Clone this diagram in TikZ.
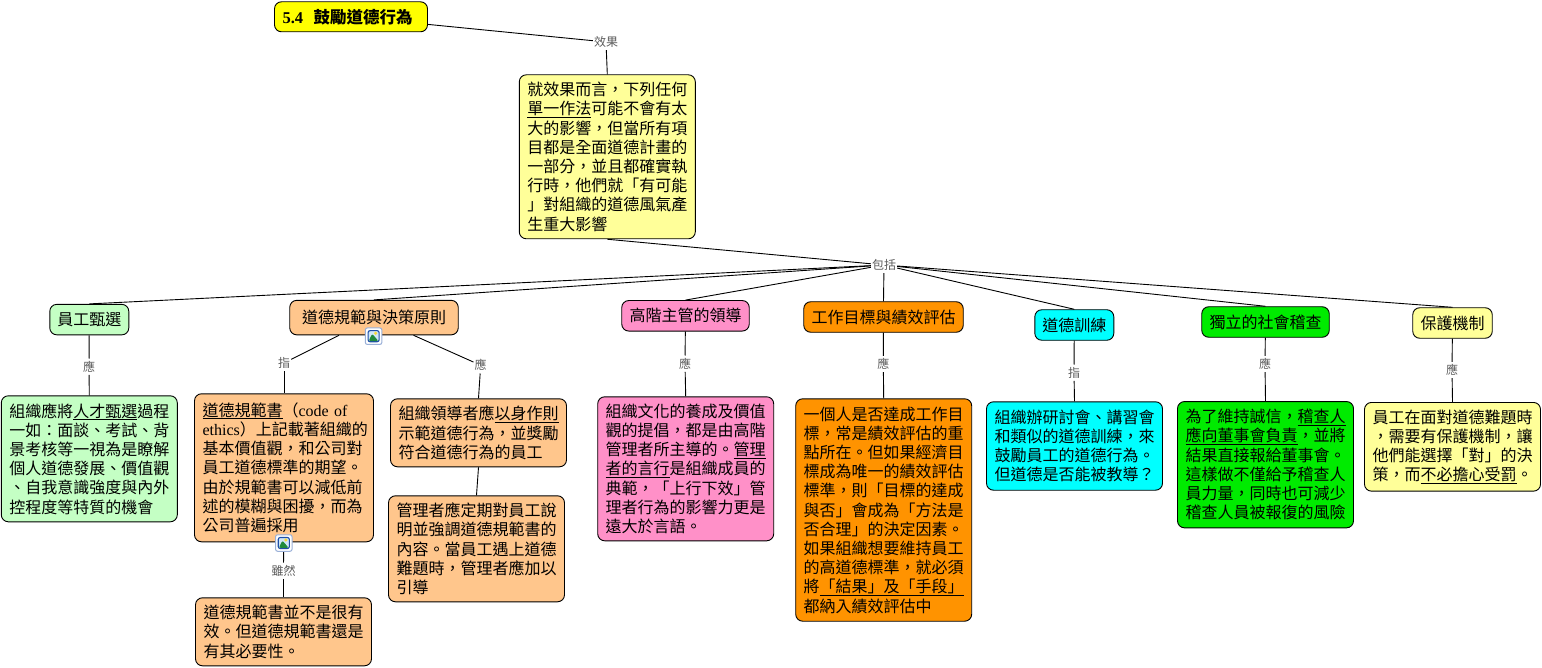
\documentclass[tikz,border=0pt]{standalone}
\usepackage{fontspec}
\setmainfont{Noto Sans CJK TC}
\newfontfamily\latinfont{Liberation Serif}

\definecolor{paleyellow}{HTML}{FFFF99}
\definecolor{palegreen}{HTML}{C4FFC4}
\definecolor{peach}{HTML}{FFC68C}
\definecolor{rosepink}{HTML}{FF90C8}
\definecolor{deeporange}{HTML}{FF9300}
\definecolor{linkgray}{HTML}{5A5A5A}
\definecolor{puregreen}{HTML}{00EB00}
\definecolor{purecyan}{HTML}{00FFFF}
\definecolor{pureyellow}{HTML}{FFFF00}
\definecolor{iconblue}{HTML}{1F4FA8}
\definecolor{iconsky}{HTML}{CFE6F7}
\definecolor{iconhill}{HTML}{1F8A3C}
\definecolor{iconsun}{HTML}{F5D93C}

\newcommand{\ulword}[1]{\leavevmode\setbox0=\hbox{#1}\rlap{\rule[-2.7pt]{\wd0}{0.9pt}}\box0}

\tikzset{
  concept/.style={draw,rounded corners=7pt,line width=0.9pt,inner sep=0pt,align=center,
    font=\fontsize{16}{19.2}\selectfont},
  detail/.style={concept,text width=160pt,inner xsep=8pt,align=left},
  linkword/.style={inner xsep=1pt,inner ysep=0pt,minimum height=16pt,text=linkgray,
    font=\fontsize{12}{14}\selectfont},
  link/.style={draw,line width=0.9pt},
  imgicon/.style={draw=iconblue!45,line width=1pt,fill=white,rounded corners=2pt,minimum size=16.5pt,inner sep=0pt,
    path picture={
      \draw[iconblue,line width=1.1pt,fill=iconsky] ([xshift=2.7pt,yshift=2.7pt]path picture bounding box.south west) rectangle ([xshift=-2.7pt,yshift=-2.7pt]path picture bounding box.north east);
      \fill[iconsun] ([xshift=2pt,yshift=3pt]path picture bounding box.center) circle (1.8pt);
      \fill[iconhill] ([xshift=3.3pt,yshift=3.3pt]path picture bounding box.south west) -- ([xshift=-1.5pt,yshift=2.5pt]path picture bounding box.center) -- ([xshift=-3.3pt,yshift=3.3pt]path picture bounding box.south east) -- cycle;
    }},
}

\begin{document}
\begin{tikzpicture}[x=1pt,y=-1pt]
\useasboundingbox (0,0) rectangle (1542,668);

% top of the map
\node [concept,fill=pureyellow,text width=137pt,inner xsep=8pt,align=left,minimum height=30pt] (title) at (351,16.8)
  {\fontsize{16.5}{19.2}\selectfont\bfseries {\latinfont 5.4}\hspace{10.5pt}鼓勵道德行為};
\node [linkword] (lbleffect) at (606,42) {效果};
\node [detail,fill=paleyellow,minimum height=164pt] (main) at (607.3,156.8) {就效果而言，下列任何\\
  \ulword{單一作法}可能不會有太\\
  大的影響，但當所有項\\
  目都是全面道德計畫的\\
  一部分，並且都確實執\\
  行時，他們就「有可能\\
  」對組織的道德風氣產\\
  生重大影響};
\node [linkword] (lblinclude) at (884,265) {包括};

% second row
\node [concept,fill=palegreen,minimum width=79pt,minimum height=30.5pt] (hiring) at (89.3,319.6) {員工甄選};
\node [concept,fill=peach,minimum width=168.5pt,minimum height=34.5pt] (ethics) at (374,317.6) {道德規範與決策原則};
\node [concept,fill=rosepink,minimum width=127.5pt,minimum height=30.5pt] (leader) at (685.5,315.8) {高階主管的領導};
\node [concept,fill=deeporange,minimum width=159.5pt,minimum height=30.5pt] (goals) at (883.5,317) {工作目標與績效評估};
\node [concept,fill=purecyan,minimum width=79pt,minimum height=30.5pt] (training) at (1074.3,325) {道德訓練};
\node [concept,fill=puregreen,minimum width=127.5pt,minimum height=30.5pt] (audit) at (1265.5,322) {獨立的社會稽查};
\node [concept,fill=paleyellow,minimum width=79.5pt,minimum height=30.5pt] (protect) at (1452.5,323) {保護機制};

% link words under the second row
\node [linkword] (lblhiring) at (89,366.7) {應};
\node [linkword] (lblcode) at (284,363) {指};
\node [linkword] (lblexample) at (480.7,365.3) {應};
\node [linkword] (lblleader) at (685,363.7) {應};
\node [linkword] (lblgoals) at (883.3,364) {應};
\node [linkword] (lbltraining) at (1074,372.7) {指};
\node [linkword] (lblaudit) at (1265,364) {應};
\node [linkword] (lblprotect) at (1452,370) {應};
\node [linkword] (lblalthough) at (283.5,570.7) {雖然};

% details
\node [detail,fill=palegreen,minimum height=126pt] (hiringtxt) at (89.3,458.8) {組織應將\ulword{人才甄選}過程\\
  一如：面談、考試、背\\
  景考核等一視為是瞭解\\
  個人道德發展、價值觀\\
  、自我意識強度與內外\\
  控程度等特質的機會};
\node [detail,fill=peach,text width=163pt,minimum height=148pt] (codetxt) at (284,467.8) {\ulword{道德規範書}（{\latinfont code of}\\
  {\latinfont ethics}）上記載著組織的\\
  基本價值觀，和公司對\\
  員工道德標準的期望。\\
  由於規範書可以減低前\\
  述的模糊與困擾，而為\\
  公司普遍採用};
\node [detail,fill=peach,minimum height=68pt] (needtxt) at (283.5,631.8) {道德規範書並不是很有\\
  效。但道德規範書還是\\
  有其必要性。};
\node [detail,fill=peach,minimum height=68pt] (exampletxt) at (478.5,432.8) {組織領導者應\ulword{以身作則}\\
  示範道德行為，並獎勵\\
  符合道德行為的員工};
\node [detail,fill=peach,minimum height=106pt] (explaintxt) at (476.5,548.8) {管理者應定期對員工說\\
  明並強調道德規範書的\\
  內容。當員工遇上道德\\
  難題時，管理者應加以\\
  引導};
\node [detail,fill=rosepink,minimum height=144pt] (leadertxt) at (685.7,468.8) {組織文化的養成及價值\\
  觀的提倡，都是由高階\\
  管理者所主導的。\ulword{管理}\\
  \ulword{者的言行}是組織成員的\\
  典範，「上行下效」管\\
  理者行為的影響力更是\\
  遠大於言語。};
\node [detail,fill=deeporange,minimum height=222.4pt] (goalstxt) at (883.7,510) {一個人是否達成工作目\\
  標，常是績效評估的重\\
  點所在。但如果經濟目\\
  標成為唯一的績效評估\\
  標準，則「目標的達成\\
  與否」會成為「方法是\\
  否合理」的決定因素。\\
  如果組織想要維持員工\\
  的高道德標準，就必須\\
  將\ulword{「結果」及「手段」}\\
  都納入績效評估中};
\node [detail,fill=purecyan,minimum height=88.4pt] (trainingtxt) at (1074.5,446) {組織辦研討會、講習會\\
  和類似的道德訓練，來\\
  鼓勵員工的道德行為。\\
  但道德是否能被教導？};
\node [detail,fill=puregreen,minimum height=126.3pt] (audittxt) at (1265.5,464.7) {為了維持誠信，\ulword{稽查人}\\
  \ulword{應向董事會負責}，並將\\
  結果直接報給董事會。\\
  這樣做不僅給予稽查人\\
  員力量，同時也可減少\\
  稽查人員被報復的風險};
\node [detail,fill=paleyellow,minimum height=88.7pt] (protecttxt) at (1452.5,446.8) {員工在面對道德難題時\\
  ，需要有保護機制，讓\\
  他們能選擇「對」的決\\
  策，而\ulword{不必擔心受罰}。};

% connectors
\draw [link] (title) -- (lbleffect);
\draw [link] (lbleffect) -- (main.north);
\draw [link] (main.south) -- (lblinclude);
\foreach \target in {hiring,ethics,leader,goals,training,audit,protect}
  \draw [link] (lblinclude) -- (\target.north);

\draw [link] (hiring) -- (lblhiring);
\draw [link] (lblhiring) -- (hiringtxt.north);
\draw [link] (ethics) -- (lblcode);
\draw [link] (lblcode) -- (codetxt.north);
\draw [link] (ethics) -- (lblexample);
\draw [link] (lblexample) -- (exampletxt.north);
\draw [link] (exampletxt.south) -- (explaintxt.north);
\draw [link] (codetxt) -- (lblalthough);
\draw [link] (lblalthough) -- (needtxt.north);
\draw [link] (leader) -- (lblleader);
\draw [link] (lblleader) -- (leadertxt.north);
\draw [link] (goals) -- (lblgoals);
\draw [link] (lblgoals) -- (goalstxt.north);
\draw [link] (training) -- (lbltraining);
\draw [link] (lbltraining) -- (trainingtxt.north);
\draw [link] (audit) -- (lblaudit);
\draw [link] (lblaudit) -- (audittxt.north);
\draw [link] (protect) -- (lblprotect);
\draw [link] (lblprotect) -- (protecttxt.north);

% picture icons
\node [imgicon] (iconethics) at (373.6,336.2) {};
\node [imgicon] (iconcode) at (283.8,543) {};

\end{tikzpicture}
\end{document}
